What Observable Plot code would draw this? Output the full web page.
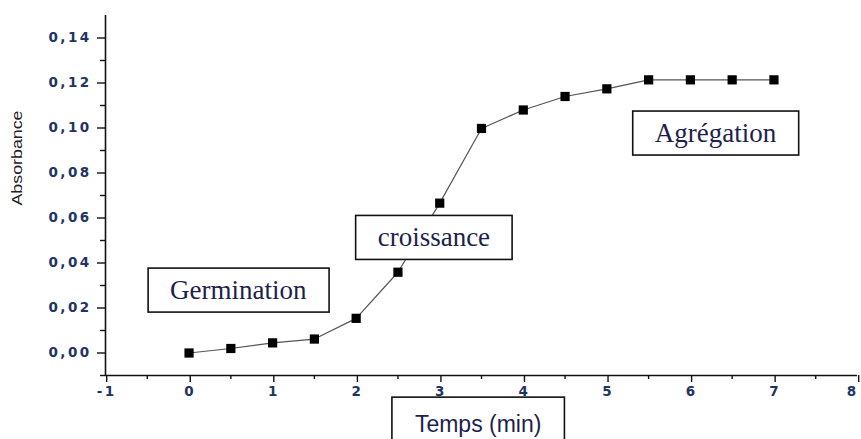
<!DOCTYPE html>
<html>
<head>
<meta charset="utf-8">
<script src="https://cdn.jsdelivr.net/npm/d3@7"></script>
<script src="https://cdn.jsdelivr.net/npm/@observablehq/plot@0.6"></script>
<style>
  html, body { margin: 0; padding: 0; background: #fff; }
  #chart { width: 861px; height: 439px; overflow: hidden; }
  #chart svg g[aria-label="y-axis tick label"] text,
  #chart svg g[aria-label="x-axis tick label"] text { letter-spacing: 2.4px; }
</style>
</head>
<body>
<div id="chart"></div>
<script>
// ---- Data ----
const time = [0, 0.5, 1, 1.5, 2, 2.5, 3, 3.5, 4, 4.5, 5, 5.5, 6, 6.5, 7];
const absorbance = [0.0, 0.002, 0.0045, 0.0062, 0.0154, 0.0359, 0.0666, 0.0998, 0.108, 0.114, 0.1174, 0.1214, 0.1214, 0.1214, 0.1214];

const xTicks = [-1, 0, 1, 2, 3, 4, 5, 6, 7, 8];
const xMinorTicks = [-0.5, 0.5, 1.5, 2.5, 3.5, 4.5, 5.5, 6.5, 7.5];
const yTicks = [0, 0.02, 0.04, 0.06, 0.08, 0.10, 0.12, 0.14];
const yMinorTicks = [-0.01, 0.01, 0.03, 0.05, 0.07, 0.09, 0.11, 0.13];

const phaseLabels = ["Germination", "croissance", "Agrégation"];
const phaseX = [0.59, 2.93, 6.30];
const phaseY = [0.0278, 0.0512, 0.0976];

const xTitle = "Temps (min)";
const xTitleX = [3.46];
const xTitleY = [-0.0319];
const yTitle = "Absorbance";

// ---- Build tables ----
const points = time.map((t, i) => ({t, a: absorbance[i]}));
const phases = phaseLabels.map((label, i) => ({label, x: phaseX[i], y: phaseY[i]}));
const commaFmt = v => d3.format(".2f")(v).replace(".", ",");

const tickText = "#1f3464";
const annoText = "#1e1f4c";

const chart = Plot.plot({
  width: 861,
  height: 439,
  marginLeft: 105,
  marginRight: 4,
  marginTop: 15,
  marginBottom: 64,
  style: {fontFamily: "DejaVu Sans", fontSize: "13.5px", fontWeight: "bold", background: "#fff", overflow: "visible"},
  x: {domain: [-1, 8]},
  y: {domain: [-0.01, 0.15]},
  marks: [
    // axis lines
    Plot.ruleX([-1], {y1: -0.01, y2: 0.15, stroke: "#111", strokeWidth: 1.6}),
    Plot.ruleY([-0.01], {x1: -1, x2: 8, stroke: "#111", strokeWidth: 1.6}),
    // x axis
    Plot.axisX(xTicks, {tickSize: 7, tickPadding: 4, stroke: "#111", strokeWidth: 1.4, fill: tickText, dx: 1.2, tickFormat: d => String(d), label: null}),
    Plot.axisX(xMinorTicks, {tickSize: 4, tickFormat: null, text: null, stroke: "#111", strokeWidth: 1.4, label: null}),
    // y axis
    Plot.axisY(yTicks, {tickSize: 8, tickPadding: 6, stroke: "#111", strokeWidth: 1.4, fill: tickText, tickFormat: commaFmt, label: null}),
    Plot.axisY(yMinorTicks, {tickSize: 5, tickFormat: null, text: null, stroke: "#111", strokeWidth: 1.4, label: null}),
    // y title
    Plot.text([yTitle], {frameAnchor: "left", text: d => d, rotate: -90, dx: -88, dy: 10, fontFamily: "Liberation Sans", fontSize: 15, fontWeight: "normal", fill: "#222"}),
    // data
    Plot.line(points, {x: "t", y: "a", stroke: "#555", strokeWidth: 1.2}),
    Plot.dot(points, {x: "t", y: "a", symbol: "square", r: 5.2, fill: "#000", stroke: "none"}),
    // phase annotations
    Plot.text(phases, {x: "x", y: "y", text: "label", fontFamily: "Liberation Serif", fontSize: 27, fontWeight: "normal", fill: annoText}),
    // x title (boxed, below axis)
    Plot.text([xTitle], {x: xTitleX, y: xTitleY, text: d => d, fontFamily: "Liberation Sans", fontSize: 23, fontWeight: "normal", fill: annoText})
  ]
});

document.getElementById("chart").appendChild(chart);

// keep the last x tick label inside the picture
const lastTick = String(xTicks[xTicks.length - 1]);
chart.querySelectorAll("text").forEach(t => {
  if (t.textContent === lastTick) {
    const tr = t.getAttribute("transform") || "";
    t.setAttribute("transform", tr + " translate(-6,0)");
  }
});

// y title: widen like the reference
chart.querySelectorAll("text").forEach(t => {
  if (t.textContent === yTitle) {
    t.setAttribute("textLength", "95");
    t.setAttribute("lengthAdjust", "spacingAndGlyphs");
  }
});

// Draw boxes around the annotation texts, sized from their rendered extents
function boxAround(labels, padX, padY) {
  chart.querySelectorAll("text").forEach(t => {
    if (!labels.includes(t.textContent)) return;
    const bb = t.getBBox();
    const r = document.createElementNS("http://www.w3.org/2000/svg", "rect");
    r.setAttribute("x", bb.x - padX);
    r.setAttribute("y", bb.y - padY);
    r.setAttribute("width", bb.width + 2 * padX);
    r.setAttribute("height", bb.height + 2 * padY);
    r.setAttribute("fill", "#fff");
    r.setAttribute("stroke", "#111");
    r.setAttribute("stroke-width", "1.6");
    const tr = t.getAttribute("transform");
    if (tr) r.setAttribute("transform", tr);
    t.parentNode.insertBefore(r, t);
  });
}
boxAround(phaseLabels, 22, 7);
boxAround([xTitle], 23, 14);
</script>
</body>
</html>
